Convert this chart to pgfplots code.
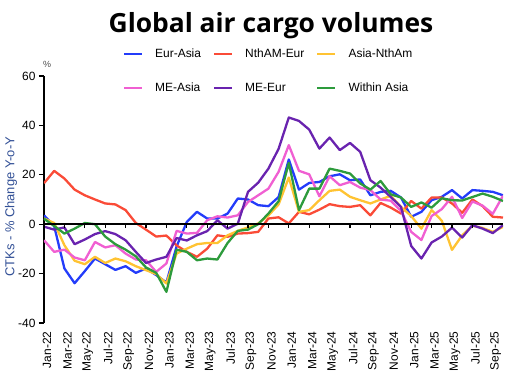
\documentclass[border=0pt]{standalone}
\usepackage{pgfplots}
\usepackage{pgfplotstable}
\pgfplotsset{compat=1.18}
\usepackage{fontspec}
\setmainfont{Liberation Sans}
\newfontfamily\titlefont{Open Sans}
\definecolor{cEA}{RGB}{35,60,250}
\definecolor{cNE}{RGB}{250,75,55}
\definecolor{cAN}{RGB}{255,195,50}
\definecolor{cMA}{RGB}{240,95,210}
\definecolor{cME}{RGB}{105,35,175}
\definecolor{cWA}{RGB}{45,155,60}
\definecolor{ylab}{RGB}{50,80,150}
\pgfplotstableread{
i  ea  nae  ana  mea  mee  wa
0 3.6 16.6 2.3 -6.5 -1.0 2.2
1 -0.8 21.6 0.5 -11.2 -2.2 -0.7
2 -17.9 18.5 -8.5 -10.3 -1.3 -3.8
3 -23.9 14.0 -14.8 -13.5 -8.1 -1.8
4 -19.0 11.7 -16.2 -14.6 -6.2 0.5
5 -13.9 10.0 -13.2 -7.2 -4.0 0.0
6 -16.2 8.4 -15.7 -9.4 -2.8 -5.0
7 -18.5 8.0 -13.9 -8.5 -4.0 -8.1
8 -17.0 5.7 -15.0 -11.9 -6.5 -10.3
9 -19.7 0.5 -17.0 -14.3 -11.2 -13.0
10 -17.9 -2.2 -18.6 -14.6 -15.7 -17.5
11 -20.6 -5.0 -20.2 -19.3 -14.3 -19.7
12 -23.6 -4.6 -24.0 -15.9 -13.2 -27.4
13 -9.0 -8.6 -11.9 -2.7 -5.6 -10.3
14 0.9 -11.2 -9.9 -3.8 -6.6 -11.2
15 5.0 -13.2 -8.1 -3.5 -4.5 -14.6
16 2.3 -9.9 -7.6 1.6 -2.8 -13.9
17 2.3 -4.5 -7.6 3.2 1.6 -14.3
18 4.3 -5.1 -4.5 2.7 -1.8 -7.6
19 10.4 -3.8 -2.7 3.6 0.2 -2.7
20 10.0 -3.6 -1.3 9.0 13.1 -2.2
21 7.7 -3.1 0.3 11.7 16.8 0.0
22 7.3 2.3 3.5 14.4 22.5 4.3
23 11.0 2.8 8.0 21.2 30.5 9.3
24 26.2 0.3 18.9 32.0 43.2 24.8
25 14.0 5.0 5.0 21.6 41.8 5.7
26 16.7 4.0 5.7 20.2 38.3 14.4
27 17.1 5.9 9.7 11.3 30.6 14.4
28 19.4 8.1 13.5 19.4 35.1 22.5
29 20.2 7.3 14.0 15.8 30.0 21.6
30 17.8 7.0 11.1 17.1 32.9 20.5
31 18.1 7.7 9.7 14.8 29.3 16.5
32 11.7 3.6 8.4 13.8 17.8 14.0
33 13.1 8.6 10.0 10.0 14.8 17.5
34 13.5 6.7 11.5 9.5 11.0 12.1
35 10.8 4.3 7.0 5.4 7.0 10.8
36 3.0 9.4 3.3 -3.1 -8.8 7.0
37 5.0 6.3 -1.8 -6.4 -13.9 8.8
38 9.7 10.8 5.7 3.3 -7.4 6.7
39 11.1 10.8 1.4 6.1 -5.0 10.5
40 13.8 8.4 -10.4 11.1 -1.4 9.7
41 10.4 4.6 -4.5 2.5 -5.4 9.6
42 13.8 10.0 -0.6 9.2 -0.4 11.0
43 13.5 7.3 -1.5 7.5 -1.8 12.4
44 13.1 3.0 -3.1 4.2 -3.6 11.1
45 11.7 2.7 -1.1 11.5 -0.4 9.4
}\datatable
\begin{document}
\begin{tikzpicture}
\pgfplotsset{
  common/.style={
    scale only axis, width=459bp, height=247bp,
    xmin=0, xmax=45, ymin=-40, ymax=60,
  }
}
\begin{axis}[common, name=main,
  axis x line=bottom, axis y line=left,
  x axis line style={draw=none}, y axis line style={-, line width=1.3bp},
  xtick={0,2,...,44},
  xticklabels={Jan-22,Mar-22,May-22,Jul-22,Sep-22,Nov-22,Jan-23,Mar-23,May-23,Jul-23,Sep-23,Nov-23,Jan-24,Mar-24,May-24,Jul-24,Sep-24,Nov-24,Jan-25,Mar-25,May-25,Jul-25,Sep-25},
  xtick style={draw=none},
  xticklabel style={rotate=90, anchor=east, yshift=-3bp, font=\fontsize{12}{14}\selectfont},
  ytick={-40,-20,0,20,40,60},
  ytick style={line width=1.3bp, black},
  tick align=outside, major tick length=5bp,
  yticklabel style={font=\fontsize{12}{14}\selectfont},
  /pgf/number format/assume math mode=true,
  ylabel={CTKs - \% Change Y-o-Y},
  ylabel style={at={(axis description cs:-0.072,0.47)}, anchor=center, font=\fontsize{13}{15}\selectfont, text=ylab},
  legend columns=3,
  legend cell align=left,
  legend image code/.code={\draw[#1, line width=2.2bp] (0bp,0bp) -- (18bp,0bp);},
  legend style={at={(axis description cs:0,1)}, anchor=north west, xshift=79bp, yshift=27.5bp,
    draw=none, fill=none, inner sep=0pt, outer sep=0pt,
    font=\fontsize{12}{14}\selectfont, row sep=22.5bp,
    nodes={inner sep=0pt, text height=9bp, text depth=2.5bp},
    /tikz/every odd column/.style={column sep=12bp},
    /tikz/every even column/.style={column sep=12bp}},
  every axis plot/.append style={line width=2.3bp, line join=round},
]
\addplot[cEA, no marks] table[x=i, y=ea] {\datatable};
\addlegendentry{Eur-Asia}
\addplot[cNE, no marks] table[x=i, y=nae] {\datatable};
\addlegendentry{NthAM-Eur}
\addplot[cAN, no marks] table[x=i, y=ana] {\datatable};
\addlegendentry{Asia-NthAm}
\addplot[cMA, no marks] table[x=i, y=mea] {\datatable};
\addlegendentry{ME-Asia}
\addplot[cME, no marks] table[x=i, y=mee] {\datatable};
\addlegendentry{ME-Eur}
\addplot[cWA, no marks] table[x=i, y=wa] {\datatable};
\addlegendentry{Within Asia}
\end{axis}
\begin{axis}[common,
  axis x line=middle, axis y line=none,
  x axis line style={-, line width=1.4bp, black},
  xtick={0,2,...,44}, xticklabels={},
  tick align=outside, major tick length=4bp,
  xtick style={line width=1.3bp, black},
  ytick=\empty,
]
\end{axis}
\node[anchor=base, font=\titlefont\bfseries\fontsize{26.5}{30}\selectfont] at ([shift={(227bp,43bp)}]main.north west) {Global air cargo volumes};
\node[anchor=base, font=\fontsize{9}{10}\selectfont, text=black!70] at ([shift={(3bp,8bp)}]main.north west) {\%};
\pgfresetboundingbox
\path ([shift={(-44bp,-66bp)}]main.south west) rectangle ([shift={(482bp,323bp)}]main.south west);
\end{tikzpicture}
\end{document}
